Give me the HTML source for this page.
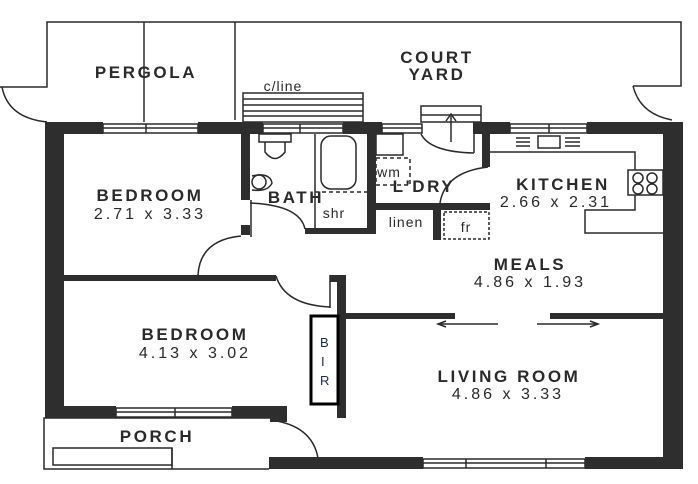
<!DOCTYPE html>
<html><head><meta charset="utf-8"><style>
html,body{margin:0;padding:0;background:#fff}
svg{display:block}
text{font-family:"Liberation Sans",sans-serif;fill:#2a2a2a}
.h{font-weight:bold;font-size:17px;letter-spacing:2.6px}
.d{font-size:16px;letter-spacing:3px}
.s{font-size:14px;letter-spacing:1px}
</style></head><body>
<svg width="698" height="484" viewBox="0 0 698 484" xmlns="http://www.w3.org/2000/svg">
<g fill="none" stroke="#2a2a2a" stroke-width="1.5">
<polyline points="0,87 47,87 47,22 681,22 681,86 633,86"/>
<line x1="144" y1="22" x2="144" y2="122"/>
<line x1="235" y1="22" x2="235" y2="120"/>
<path d="M2,87 Q8,118 47,122"/>
<path d="M633,86 Q640,114 672,120"/>
<rect x="243" y="93" width="120" height="29"/>
<line x1="243" y1="99" x2="363" y2="99"/>
<line x1="243" y1="105" x2="363" y2="105"/>
<line x1="243" y1="111" x2="363" y2="111"/>
<line x1="243" y1="116" x2="363" y2="116"/>
<rect x="421" y="106" width="60" height="16"/>
<line x1="421" y1="115" x2="481" y2="115"/>
<line x1="451" y1="142" x2="451" y2="116"/>
<path d="M446,121 L451,114 L456,121"/>
<path d="M421,134 Q430,152 474,153"/>
<line x1="474" y1="134" x2="474" y2="153"/>
<rect x="103" y="124" width="95" height="9"/><line x1="146" y1="124" x2="146" y2="133"/><line x1="103" y1="128" x2="198" y2="128"/>
<rect x="263" y="124" width="80" height="9"/><line x1="300" y1="124" x2="300" y2="133"/><line x1="263" y1="128" x2="343" y2="128"/>
<rect x="382" y="124" width="40" height="9"/><line x1="382" y1="128" x2="422" y2="128"/>
<rect x="510" y="124" width="77" height="9"/><line x1="549" y1="124" x2="549" y2="133"/><line x1="510" y1="128" x2="587" y2="128"/>
<rect x="116" y="408" width="116" height="9"/><line x1="175" y1="408" x2="175" y2="417"/><line x1="116" y1="412" x2="232" y2="412"/>
<rect x="423" y="459" width="162" height="9"/><line x1="466" y1="459" x2="466" y2="468"/><line x1="546" y1="459" x2="546" y2="468"/><line x1="423" y1="463" x2="585" y2="463"/>
<rect x="259" y="134" width="32" height="8"/>
<path d="M265,142 L265,152 Q275,165 285,152 L285,142"/>
<circle cx="259" cy="182" r="7"/>
<path d="M252,176 Q270,172 272,183 Q268,192 252,190"/>
<line x1="315" y1="134" x2="315" y2="229"/>
<rect x="321" y="136" width="35" height="53" rx="10"/>
<line x1="315" y1="192" x2="370" y2="192" stroke-dasharray="4,3"/>
<path d="M250,203 Q300,205 305,229"/>
<line x1="251" y1="200" x2="251" y2="237"/>
<rect x="376" y="134" width="27" height="21"/>
<rect x="376" y="158" width="34" height="27" stroke-dasharray="4,3"/>
<path d="M440,203 Q445,172 488,167"/>
<rect x="444" y="212" width="45" height="27" stroke-dasharray="3,2"/>
<polyline points="490,152 635,152 635,210 585,210 585,233 663,233"/>
<rect x="628" y="170" width="35" height="25" fill="#fff"/>
<circle cx="638" cy="178" r="5"/><circle cx="652" cy="178" r="5"/><circle cx="638" cy="189" r="5"/><circle cx="652" cy="189" r="5"/>
<rect x="538" y="136" width="22" height="12"/>
<path d="M516,138 H530 M516,142 H530 M516,146 H530 M565,138 H580 M565,142 H580 M565,146 H580"/>
<path d="M198,275 Q200,240 241,236"/>
<path d="M276,276 Q285,305 330,307"/>
<line x1="330" y1="275" x2="330" y2="308"/>
<path d="M270,420 Q312,425 318,458"/>
<polyline points="270,418 44,418 44,469 269,469"/>
<rect x="53" y="448" width="119" height="17"/>
<line x1="172" y1="448" x2="172" y2="469"/>
<line x1="438" y1="324" x2="498" y2="324"/><path d="M446,321 L438,324 L446,327"/>
<line x1="537" y1="324" x2="598" y2="324"/><path d="M590,321 L598,324 L590,327"/>
</g>
<g fill="#2e2e2e">
<rect x="45" y="122" width="58" height="12"/>
<rect x="198" y="122" width="65" height="12"/>
<rect x="343" y="122" width="39" height="12"/>
<rect x="473" y="122" width="37" height="12"/>
<rect x="587" y="122" width="96" height="12"/>
<rect x="45" y="122" width="19" height="296"/>
<rect x="663" y="122" width="20" height="347"/>
<rect x="241" y="134" width="9" height="66"/>
<rect x="241" y="225" width="9" height="10"/>
<rect x="305" y="228" width="70" height="6"/>
<rect x="367" y="134" width="9" height="100"/>
<rect x="482" y="134" width="8" height="33"/>
<rect x="376" y="203" width="114" height="7"/>
<rect x="433" y="210" width="8" height="30"/>
<rect x="64" y="275" width="212" height="6"/>
<rect x="330" y="275" width="16" height="7"/>
<rect x="337" y="282" width="9" height="136"/>
<rect x="64" y="406" width="52" height="12"/>
<rect x="232" y="406" width="55" height="12"/>
<rect x="270" y="412" width="17" height="10"/>
<rect x="346" y="313" width="109" height="6"/>
<rect x="550" y="313" width="113" height="6"/>
<rect x="269" y="457" width="154" height="12"/>
<rect x="585" y="457" width="98" height="12"/>
</g>
<rect x="311" y="316" width="27" height="88" fill="#fff" stroke="#000" stroke-width="3"/>
<text x="320" y="347" style="font-size:13px;fill:#1a2a66">B</text>
<text x="321" y="366" style="font-size:13px;fill:#1a2a66">I</text>
<text x="320" y="385" style="font-size:13px;fill:#1a2a66">R</text>
<g text-anchor="middle">
<text class="h" x="146" y="78">PERGOLA</text>
<text class="h" x="437" y="63">COURT</text>
<text class="h" x="437" y="80">YARD</text>
<text class="s" x="283" y="91">c/line</text>
<text class="h" x="150" y="201">BEDROOM</text>
<text class="d" x="150" y="219">2.71 x 3.33</text>
<text class="h" x="296" y="203">BATH</text>
<text class="s" x="334" y="218">shr</text>
<text class="s" x="389" y="177">wm</text>
<text class="h" x="424" y="192">L'DRY</text>
<text class="h" x="563" y="190">KITCHEN</text>
<text class="d" x="556" y="207">2.66 x 2.31</text>
<text class="s" x="406" y="227">linen</text>
<text class="s" x="466" y="232">fr</text>
<text class="h" x="530" y="270">MEALS</text>
<text class="d" x="530" y="287">4.86 x 1.93</text>
<text class="h" x="195" y="340">BEDROOM</text>
<text class="d" x="195" y="358">4.13 x 3.02</text>
<text class="h" x="509" y="382">LIVING ROOM</text>
<text class="d" x="508" y="399">4.86 x 3.33</text>
<text class="h" x="157" y="442">PORCH</text>
</g>
</svg>
</body></html>
